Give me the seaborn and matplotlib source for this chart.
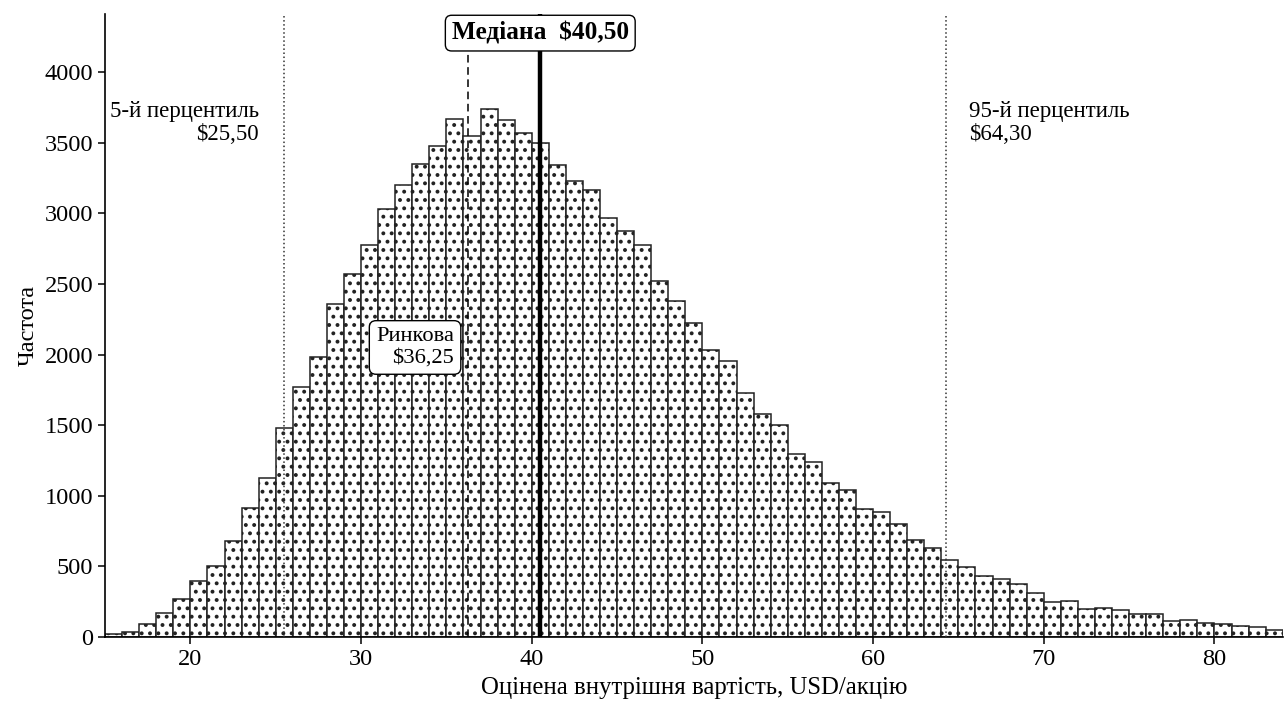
import numpy as np
import pandas as pd
import matplotlib
matplotlib.use("Agg")
import matplotlib.pyplot as plt
import seaborn as sns

# ---- data ----
bin_left = list(range(15, 84))
counts = [18, 35, 92, 167, 268, 400, 501, 680, 916, 1125,
          1477, 1769, 1984, 2357, 2569, 2777, 3028, 3201, 3350, 3473,
          3670, 3550, 3735, 3660, 3568, 3496, 3344, 3225, 3165, 2965,
          2876, 2777, 2518, 2378, 2220, 2032, 1956, 1725, 1582, 1501,
          1298, 1239, 1093, 1041, 906, 885, 798, 687, 630, 545,
          498, 430, 408, 373, 314, 250, 257, 201, 208, 194,
          163, 163, 113, 118, 99, 94, 78, 71, 52]
xticks = [20, 30, 40, 50, 60, 70, 80]
yticks = [0, 500, 1000, 1500, 2000, 2500, 3000, 3500, 4000]
p5 = 25.50
p95 = 64.30
market = 36.25
median = 40.50
p5_label = "5-й перцентиль\n$25,50"
p95_label = "95-й перцентиль\n$64,30"
market_label = "Ринкова\n$36,25"
median_label = "Медіана  $40,50"
xlabel = "Оцінена внутрішня вартість, USD/акцію"
ylabel = "Частота"

# ---- style ----
sns.set_theme(style="ticks")
plt.rcParams["font.family"] = ["Liberation Serif", "DejaVu Serif"]
plt.rcParams["hatch.color"] = "black"
plt.rcParams["hatch.linewidth"] = 1.6
plt.rcParams["axes.edgecolor"] = "black"
plt.rcParams["xtick.color"] = "black"
plt.rcParams["ytick.color"] = "black"
plt.rcParams["text.color"] = "black"
plt.rcParams["axes.labelcolor"] = "black"

fig, ax = plt.subplots(figsize=(12.84, 7.06), dpi=100)
fig.subplots_adjust(left=0.0818, right=0.999, top=0.980, bottom=0.0977)

df = pd.DataFrame({"value": [b + 0.5 for b in bin_left], "count": counts})
edges = [float(e) for e in range(bin_left[0], bin_left[-1] + 2)]
sns.histplot(data=df, x="value", weights="count", bins=edges, ax=ax,
             facecolor="white", edgecolor="#222222", linewidth=1.1,
             hatch="..", zorder=2)

ax.set_xlim(15, 84)
ax.set_ylim(0, 4410)
ax.set_xticks(xticks)
ax.set_yticks(yticks)
ax.tick_params(axis="both", labelsize=17.6, direction="out", length=5, width=1.1)
sns.despine(ax=ax)
for s in ["left", "bottom"]:
    ax.spines[s].set_linewidth(1.2)

ax.set_xlabel(xlabel, fontsize=17.8, labelpad=5)
ax.set_ylabel(ylabel, fontsize=17.6, labelpad=4)

# reference lines
ax.axvline(p5, color="#333333", linestyle=":", linewidth=1.1, zorder=3)
ax.axvline(p95, color="#333333", linestyle=":", linewidth=1.1, zorder=3)
ax.axvline(market, color="black", linestyle=(0, (5, 3)), linewidth=1.1, zorder=3)
ax.axvline(median, color="black", linestyle="-", linewidth=3.2, zorder=3)

# annotations
ax.text(p5 - 1.5, 3640, p5_label, ha="right", va="center", fontsize=16.5,
        linespacing=1.15, zorder=5)
ax.text(p95 + 1.3, 3640, p95_label, ha="left", va="center", fontsize=16.5,
        linespacing=1.15, zorder=5)
ax.text(market - 0.8, 2050, market_label, ha="right", va="center", fontsize=16.2,
        linespacing=1.15, zorder=6,
        bbox=dict(boxstyle="round,pad=0.3", fc="white", ec="black", lw=1.0))
ax.text(median, 0.9695, median_label, transform=ax.get_xaxis_transform(),
        ha="center", va="center", fontsize=18.3, fontweight="bold", zorder=6,
        bbox=dict(boxstyle="round,pad=0.25", fc="white", ec="black", lw=1.0))

fig.savefig("out.png", dpi=100)
